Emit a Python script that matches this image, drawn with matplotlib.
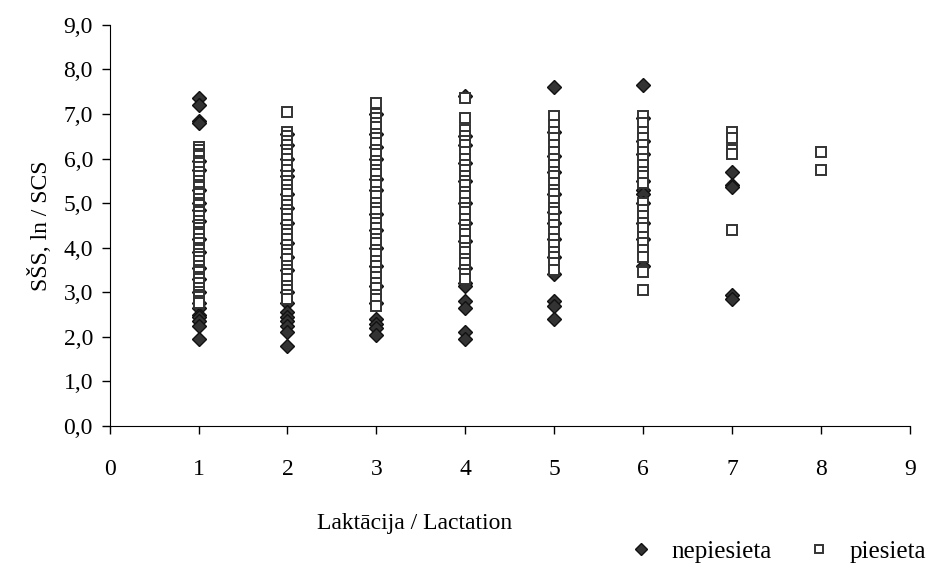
import matplotlib
matplotlib.use("Agg")
import matplotlib.pyplot as plt

# SŠS (ln) by lactation, two groups
# nepiesieta (diamonds) - many hidden behind the squares
nep_1 = [7.35, 7.2, 6.85, 6.8, 5.95, 5.75, 5.3, 5.0, 4.85, 4.6, 4.2, 3.9, 3.55, 3.3, 3.0,
         2.75, 2.65, 2.5, 2.45, 2.35, 2.25, 1.95]
nep_2 = [6.55, 6.3, 6.0, 5.75, 5.6, 5.2, 4.9, 4.55, 4.1, 3.8, 3.5, 3.0,
         2.75, 2.55, 2.45, 2.35, 2.25, 2.1, 1.8]
nep_3 = [7.0, 6.55, 6.25, 6.0, 5.55, 5.3, 4.75, 4.4, 4.0, 3.6, 3.15, 2.75,
         2.4, 2.3, 2.2, 2.05]
nep_4 = [7.4, 6.5, 6.3, 5.9, 5.5, 5.0, 4.55, 4.15, 3.55, 3.2, 3.15, 2.8, 2.65, 2.1, 1.95]
nep_5 = [7.6, 6.6, 6.05, 5.7, 5.2, 4.8, 4.55, 4.2, 3.8, 3.4, 2.8, 2.7, 2.4]
nep_6 = [7.65, 6.9, 6.4, 6.1, 5.5, 5.3, 5.2, 5.0, 4.55, 4.2, 3.6]
nep_7 = [5.7, 5.4, 5.35, 2.95, 2.85]
nep_x = [1] * len(nep_1) + [2] * len(nep_2) + [3] * len(nep_3) + [4] * len(nep_4) \
    + [5] * len(nep_5) + [6] * len(nep_6) + [7] * len(nep_7)
nep_y = nep_1 + nep_2 + nep_3 + nep_4 + nep_5 + nep_6 + nep_7

# piesieta (squares)
pie_1 = [6.25, 6.2, 6.1, 6.05, 5.95, 5.9, 5.8, 5.7, 5.6, 5.5, 5.4, 5.35, 5.25, 5.2, 5.1,
         5.0, 4.95, 4.85, 4.8, 4.7, 4.6, 4.5, 4.45, 4.35, 4.3, 4.2, 4.1, 4.0, 3.95, 3.85,
         3.8, 3.7, 3.6, 3.5, 3.45, 3.35, 3.3, 3.2, 3.1, 3.0, 2.95, 2.9, 2.8, 2.75]
pie_2 = [7.05, 6.6, 6.5, 6.4, 6.3, 6.2, 6.1, 6.0, 5.85, 5.75, 5.6, 5.5, 5.4, 5.3, 5.2,
         5.05, 4.95, 4.85, 4.75, 4.65, 4.5, 4.4, 4.3, 4.2, 4.05, 3.95, 3.85, 3.75, 3.6,
         3.5, 3.4, 3.3, 3.15, 3.05, 2.95, 2.85]
pie_3 = [7.25, 7.0, 6.9, 6.8, 6.7, 6.55, 6.45, 6.35, 6.2, 6.1, 5.95, 5.85, 5.75, 5.65,
         5.5, 5.4, 5.25, 5.15, 5.0, 4.9, 4.8, 4.65, 4.55, 4.45, 4.3, 4.2, 4.1, 3.95, 3.85,
         3.7, 3.6, 3.45, 3.35, 3.2, 3.1, 2.95, 2.85, 2.7]
pie_4 = [7.35, 6.9, 6.65, 6.5, 6.4, 6.3, 6.15, 6.0, 5.85, 5.75, 5.6, 5.5, 5.4, 5.25,
         5.15, 5.0, 4.9, 4.8, 4.65, 4.5, 4.4, 4.3, 4.15, 4.0, 3.9, 3.75, 3.65, 3.5, 3.4, 3.3]
pie_5 = [6.95, 6.75, 6.6, 6.45, 6.3, 6.15, 6.0, 5.85, 5.7, 5.6, 5.45, 5.3, 5.2, 5.05,
         4.9, 4.8, 4.65, 4.5, 4.35, 4.2, 4.05, 3.9, 3.8, 3.65, 3.5]
pie_6 = [6.95, 6.8, 6.6, 6.45, 6.3, 6.15, 6.0, 5.85, 5.7, 5.6, 5.45, 5.0, 4.85, 4.7,
         4.55, 4.45, 4.25, 4.1, 3.95, 3.8, 3.45, 3.05]
pie_7 = [6.6, 6.45, 6.2, 6.1, 4.4]
pie_8 = [6.15, 5.75]
pie_x = [1] * len(pie_1) + [2] * len(pie_2) + [3] * len(pie_3) + [4] * len(pie_4) \
    + [5] * len(pie_5) + [6] * len(pie_6) + [7] * len(pie_7) + [8] * len(pie_8)
pie_y = pie_1 + pie_2 + pie_3 + pie_4 + pie_5 + pie_6 + pie_7 + pie_8

x_ticks = list(range(0, 10))
y_ticks = list(range(0, 10))

plt.rcParams["font.family"] = ["Liberation Serif", "DejaVu Serif"]
FS = 17

fig = plt.figure(figsize=(9.37, 5.75), dpi=100)
ax = fig.add_axes([0.117, 0.259, 0.854, 0.698])

ax.plot(nep_x, nep_y, linestyle="none", marker="D", markersize=7.2,
        markerfacecolor="#333333", markeredgecolor="#111111", markeredgewidth=1.0,
        label="nepiesieta")
ax.plot(pie_x, pie_y, linestyle="none", marker="s", markersize=7.5,
        markerfacecolor="white", markeredgecolor="#333333", markeredgewidth=1.4,
        label="piesieta")

ax.set_xlim(0, 9)
ax.set_ylim(0, 9)
ax.set_xticks(x_ticks)
ax.set_yticks(y_ticks)
ax.set_yticklabels([f"{v:.1f}".replace(".", ",") for v in y_ticks])
ax.tick_params(direction="out", length=6, width=1, labelsize=FS, pad=6)
ax.tick_params(axis="x", pad=18)
for side in ("top", "right"):
    ax.spines[side].set_visible(False)
ax.set_xlabel("Laktācija / Lactation", fontsize=FS)
ax.xaxis.set_label_coords((415 - 110) / 800, -(523 - 426) / 401, transform=ax.transAxes)
ax.xaxis.label.set_va("center")
ax.set_ylabel("SŠS, ln / SCS", fontsize=FS, labelpad=8)

fig.legend(loc="lower right", bbox_to_anchor=(1.012, -0.018), ncol=2, frameon=False,
           fontsize=18, handletextpad=0.4, handlelength=1.6, columnspacing=1.1,
           markerscale=0.85)

fig.savefig("out.png", dpi=100)
